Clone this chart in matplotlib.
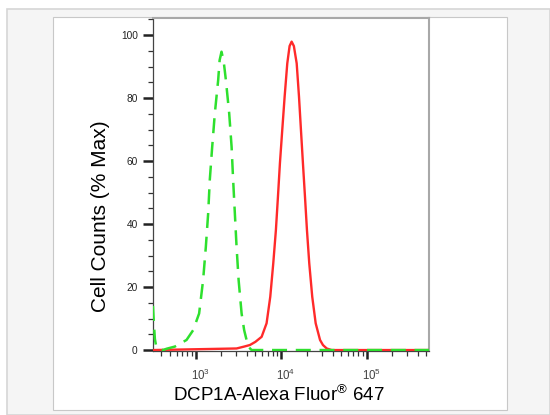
import matplotlib
matplotlib.use("Agg")
import matplotlib.pyplot as plt
from matplotlib.patches import Rectangle
from matplotlib.transforms import ScaledTranslation
from matplotlib.ticker import LogLocator, FixedLocator, MultipleLocator, NullFormatter

plt.rcParams['font.family'] = ['Liberation Sans', 'DejaVu Sans']
plt.rcParams['mathtext.fontset'] = 'custom'
plt.rcParams['mathtext.rm'] = 'Liberation Sans'
plt.rcParams['mathtext.it'] = 'Liberation Sans'

# ---- data ----
red_x = [318, 3020, 3700, 4325, 5012, 5930, 6776, 7482, 8110, 8710, 9204, 9705, 10330, 11015,
         11830, 12590, 13300, 14125, 15240, 16220, 17100, 18030, 19050, 20090,
         21380, 23170, 25410, 28580, 30900, 34200, 39080, 537000]
red_y = [0, 0.5, 1.1, 1.6, 2.6, 4.2, 8.5, 16.9, 27.5, 38.1, 48.7, 59.3, 69.8, 80.4,
         91.0, 96.5, 97.9, 96.5, 91.0, 80.4, 69.8, 59.3, 48.7, 38.1,
         27.5, 16.9, 8.5, 3.2, 1.6, 0.5, 0, 0]

green_x = [318, 326, 335, 348, 380, 420, 457, 573, 785, 938, 1102, 1227, 1321,
           1406, 1469, 1567, 1682, 1841, 1914, 2014, 2138, 2265, 2477, 2642,
           2754, 2884, 3020, 3192, 3459, 3707, 4130, 4529, 537000]
green_y = [14.0, 8.5, 3.5, 1.0, 0.2, 0.0, 0.4, 1.1, 3.2, 6.3, 11.6, 22.2, 32.8,
           43.4, 54.0, 64.5, 75.1, 85.7, 92.0, 94.7, 91.5, 85.7, 75.1, 64.5,
           54.0, 43.4, 32.8, 22.2, 11.6, 6.3, 1.1, 0.0, 0.0]

y_ticks = [0, 20, 40, 60, 80, 100]
y_ticklabels = ['0', '20', '40', '60', '80', '100']
x_ticks = [1e3, 1e4, 1e5]
x_ticklabels = [r'$10^{3}$', r'$10^{4}$', r'$10^{5}$']
xlabel_text = r'DCP1A-Alexa Fluor$^{®}$ 647'
ylabel_text = 'Cell Counts (% Max)'

W, H = 550, 415
fig = plt.figure(figsize=(W / 100, H / 100), dpi=100)
fig.patch.set_facecolor('white')

# background frames
fig.patches.append(Rectangle((7 / W, 0), (W - 7) / W, (H - 9) / H, transform=fig.transFigure,
                             facecolor='#f5f5f5', edgecolor='#d6d6d6', lw=1.2, zorder=-3))
fig.patches.append(Rectangle((53 / W, 5 / H), 454 / W, 393 / H, transform=fig.transFigure,
                             facecolor='white', edgecolor='#c8c8c8', lw=0.8, zorder=-2))

ax = fig.add_axes([153 / W, (H - 351) / H, (429 - 153) / W, (351 - 18) / H])
ax.set_zorder(1)
ax.patch.set_alpha(0)
ax.set_xscale('log')
ax.plot(red_x, red_y, color='#ff2a2a', lw=1.7, zorder=3, solid_joinstyle='round')
ax.plot(green_x, green_y, color='#2ee02e', lw=1.8, dashes=(6, 3.5), zorder=4)

ax.set_xlim(10 ** 2.503, 10 ** 5.73)
ax.set_ylim(-0.3, 105.4)

ax.yaxis.set_major_locator(FixedLocator(y_ticks))
ax.set_yticklabels(y_ticklabels)
ax.yaxis.set_minor_locator(MultipleLocator(5))
ax.xaxis.set_major_locator(FixedLocator(x_ticks))
ax.set_xticklabels(x_ticklabels)
ax.xaxis.set_minor_locator(LogLocator(base=10, subs=range(2, 10), numticks=20))
ax.xaxis.set_minor_formatter(NullFormatter())

ax.tick_params(axis='y', which='major', direction='out', length=7, width=1.8,
               color='#222222', labelsize=7.3, pad=4, labelcolor='#222222')
ax.tick_params(axis='y', which='minor', direction='out', length=3.5, width=0.9, color='#333333')
ax.tick_params(axis='x', which='major', direction='out', length=6, width=1.8,
               color='#222222', labelsize=8.3, pad=6, labelcolor='#444444')
ax.tick_params(axis='x', which='minor', direction='out', length=3.5, width=0.9, color='#333333')
shift = ScaledTranslation(5 / 100, 0, fig.dpi_scale_trans)
for lbl in ax.get_xticklabels():
    lbl.set_transform(lbl.get_transform() + shift)

for s in ['top', 'right']:
    ax.spines[s].set_color('#a8a8a8')
    ax.spines[s].set_linewidth(1.5)
ax.spines['left'].set_color('#444444')
ax.spines['left'].set_linewidth(0.9)
ax.spines['bottom'].set_color('#444444')
ax.spines['bottom'].set_linewidth(0.9)

fig.text(279 / W, 1 - 395 / H, xlabel_text, ha='center', va='center', fontsize=13.5, color='black')
fig.text(101 / W, 1 - 216 / H, ylabel_text, ha='center', va='center', rotation=90,
         fontsize=15, color='black')

fig.savefig('out.png', dpi=100, facecolor=fig.get_facecolor())
